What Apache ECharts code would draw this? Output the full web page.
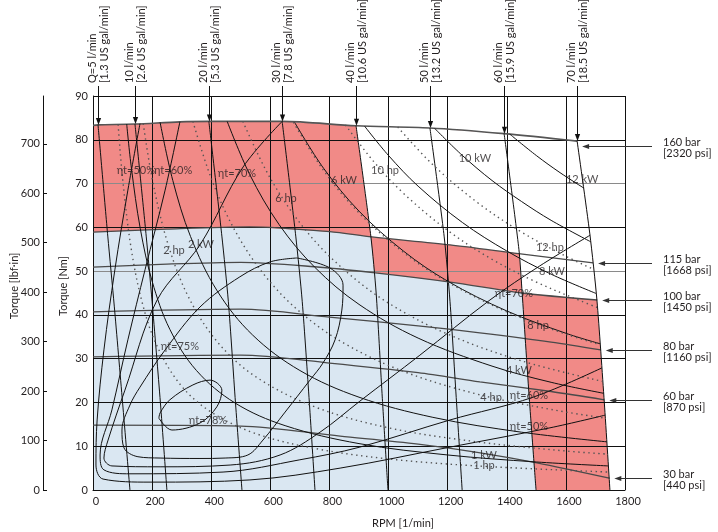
<!DOCTYPE html>
<html><head><meta charset="utf-8">
<script src="https://cdn.jsdelivr.net/npm/echarts@6/dist/echarts.min.js"></script>
<style>html,body{margin:0;padding:0;background:#fff}#c{width:718px;height:532px}</style>
</head><body><div id="c"></div>
<script>
// ---------- data (rpm, Nm) ----------
const xTicksMax = 1800, yNmMax = 90;
const lbfPerNm = 8.8507;
const lbfTicks = [0,100,200,300,400,500,600,700];

// 160 bar line = top boundary
const top160 = [[0,83.3],[17,83.4],[142,83.6],[294,84.1],[392,84.2],[640,84.2],[890,83.2],[1140,82.7],[1391,81.4],[1638,79.7]];
const p115 = [[0,58.9],[250,59.6],[530,60.1],[800,59.0],[944,57.8],[1208,56.0],[1440,54.0],[1692,51.9]];
const p100 = [[0,50.9],[250,51.6],[500,52.0],[750,51.0],[955,49.6],[1208,47.5],[1451,45.0],[1706,43.4]];
const p80  = [[0,40.7],[500,41.3],[800,39.5],[1100,37.5],[1309,35.9],[1550,33.8],[1718,32.0]];
const p60  = [[0,30.4],[500,30.8],[800,29.0],[1100,26.8],[1309,24.7],[1550,22.5],[1730,20.6]];
const p30  = [[0,14.8],[500,14.6],[836,12.3],[1100,10.5],[1300,8.6],[1502,6.2],[1747,2.7]];

// flow lines
const q5  = [[17,83.4],[50,58],[72,42],[100,20],[125,0]];
const q10 = [[142,83.6],[180,58],[200,43],[228,20],[250,0]];
const q20 = [[392,84.2],[436,58],[458,43],[482,20],[504,0]];
const q30 = [[640,84.2],[686,58],[708,43],[732,20],[751,0]];
const q40 = [[890,83.2],[940,58],[958,45],[978,22],[998,0]];
const q50 = [[1140,82.7],[1188,58],[1208,43],[1230,20],[1249,0]];
const q60 = [[1391,81.4],[1441,55],[1452,45],[1475,22],[1499,0]];
const q70 = [[1638,79.7],[1681,58.5],[1705,43.4],[1730,20],[1749,0]];

// power lines (kW solid, hp dotted)
const kw1  = [[114,83.6],[130,73.5],[160,59.7],[200,47.7],[260,36.7],[350,27.3],[480,19.9],[650,14.7],[900,10.6],[1200,8.0],[1500,6.4],[1743,5.5]];
const kw2  = [[227,84.0],[270,70.7],[330,57.9],[420,45.5],[540,35.4],[700,27.3],[900,21.2],[1150,16.6],[1450,13.2],[1739,11.0]];
const kw4  = [[454,84.2],[530,72.1],[630,60.6],[750,50.9],[900,42.4],[1100,34.7],[1350,28.3],[1550,24.6],[1727,22.1]];
const kw6  = [[682,84.0],[780,73.5],[900,63.7],[1050,54.6],[1200,47.7],[1400,40.9],[1600,35.8],[1716,33.4]];
const kw8  = [[919,83.1],[1000,76.4],[1100,69.4],[1250,61.1],[1400,54.6],[1550,49.3],[1702,44.9]];
const kw10 = [[1156,82.6],[1250,76.4],[1350,70.7],[1450,65.9],[1550,61.6],[1684,56.7]];
const kw12 = [[1410,81.3],[1500,76.4],[1580,72.5],[1660,69.0]];
const hp1  = [[85,83.5],[100,71.2],[130,54.8],[170,41.9],[220,32.4],[300,23.7],[400,17.8],[550,12.9],[750,9.5],[1000,7.1],[1300,5.5],[1745,4.1]];
const hp2  = [[170,83.7],[200,71.2],[250,57.0],[320,44.5],[420,33.9],[550,25.9],[750,19.0],[1000,14.2],[1300,11.0],[1600,8.9],[1741,8.2]];
const hp4  = [[338,84.2],[400,71.2],[480,59.3],[580,49.1],[700,40.7],[850,33.5],[1050,27.1],[1300,21.9],[1550,18.4],[1733,16.4]];
const hp6  = [[507,84.2],[600,71.2],[720,59.3],[850,50.3],[1000,42.7],[1200,35.6],[1450,29.5],[1724,24.8]];
const hp8  = [[678,84.0],[780,73.0],[900,63.3],[1050,54.3],[1200,47.5],[1400,40.7],[1600,35.6],[1716,33.2]];
const hp10 = [[854,83.4],[950,75.0],[1050,67.8],[1200,59.3],[1350,52.7],[1500,47.5],[1650,43.2],[1706,41.7]];
const hp12 = [[1031,82.9],[1150,74.3],[1300,65.7],[1450,58.9],[1600,53.4],[1694,50.4]];

// efficiency contours
const eff50 = [[159,83.7],[118,68.5],[74,50.3],[37,32.0],[14,16.0],[10,5.7],[34,2.5],[193,1.8],[531,2.3],[836,5.0],[1208,9.8],[1546,14.2],[1733,17.1]];
const eff60 = [[294,84.1],[244,68.5],[176,50.3],[118,34.3],[64,18.3],[24,8.0],[37,4.6],[125,3.7],[440,4.1],[700,6.9],[903,9.8],[1208,16.0],[1489,21.2],[1722,27.9]];
const eff70 = [[640,84.2],[508,73.8],[362,56.0],[217,43.4],[108,22.8],[51,11.4],[37,7.3],[64,5.5],[227,5.3],[464,5.7],[633,8.0],[768,13.2],[903,20.3],[1106,30.8],[1343,43.4],[1512,51.2],[1682,58.2]];
const eff75 = [[690,53.0],[802,50.7],[846,46.8],[842,41.1],[819,34.3],[778,29.0],[734,25.1],[650,17.8],[575,11.4],[524,8.0],[447,7.3],[362,7.2],[227,7.3],[152,7.6],[105,9.6],[98,13.7],[125,19.4],[159,23.5],[244,32.0],[362,41.8],[497,48.7],[599,52.1],[690,53.0]];
const eff78 = [[223,16.4],[267,13.7],[362,15.3],[419,19.0],[436,22.8],[396,25.1],[338,24.0],[260,20.6],[227,17.6],[223,16.4]];

// in-plot labels
const labelText = ["ηt=50%","ηt=60%","ηt=70%","2 hp","2 kW","6 hp","6 kW","10 hp","10 kW","12 kW","12 hp","8 kW","ηt=70%","8 hp","4 kW","4 hp","ηt=60%","ηt=50%","1 kW","1 hp","ηt=75%","ηt=78%"];
const labelRpm  = [145,271,487,274,365,653,849,988,1292,1655,1546,1553,1424,1506,1441,1347,1475,1475,1323,1323,294,389];
const labelNm   = [73.1,73.1,72.4,54.8,56.2,66.5,70.6,73.1,75.8,71.0,55.5,50.0,44.8,37.7,27.2,21.2,21.5,14.6,7.8,5.5,32.7,16.0];

// outside annotations
const flowLpm = ["Q=5 l/min","10 l/min","20 l/min","30 l/min","40 l/min","50 l/min","60 l/min","70 l/min"];
const flowGal = ["[1.3 US gal/min]","[2.6 US gal/min]","[5.3 US gal/min]","[7.8 US gal/min]","[10.6 US gal/min]","[13.2 US gal/min]","[15.9 US gal/min]","[18.5 US gal/min]"];
const pressBar = ["160 bar","115 bar","100 bar","80 bar","60 bar","30 bar"];
const pressPsi = ["[2320 psi]","[1668 psi]","[1450 psi]","[1160 psi]","[870 psi]","[440 psi]"];

// ---------- geometry helpers ----------
const flowLines = [q5,q10,q20,q30,q40,q50,q60,q70];
const pressLines = [top160,p115,p100,p80,p60,p30];
function segInt(a,b,c,d){
  const r=[b[0]-a[0],b[1]-a[1]], s=[d[0]-c[0],d[1]-c[1]];
  const den=r[0]*s[1]-r[1]*s[0]; if(Math.abs(den)<1e-12) return null;
  const t=((c[0]-a[0])*s[1]-(c[1]-a[1])*s[0])/den;
  const u=((c[0]-a[0])*r[1]-(c[1]-a[1])*r[0])/den;
  const e=1e-6;
  if(t<-e||t>1+e||u<-e||u>1+e) return null;
  return {t:t,u:u};
}
function findCross(A,B){
  for(let i=0;i<A.length-1;i++) for(let j=0;j<B.length-1;j++){
    const r=segInt(A[i],A[i+1],B[j],B[j+1]); if(r) return {a:i+r.t,b:j+r.u};
  }
  return null;
}
function ptAt(A,s){const i=Math.max(0,Math.min(Math.floor(s),A.length-2));const t=s-i;
  return [A[i][0]+(A[i+1][0]-A[i][0])*t, A[i][1]+(A[i+1][1]-A[i][1])*t];}
function slice(A,s0,s1){
  const out=[ptAt(A,s0)];
  if(s1>s0){for(let k=Math.floor(s0)+1;k<s1;k++) out.push(A[k]);}
  else {for(let k=Math.ceil(s0)-1;k>s1;k--) out.push(A[k]);}
  out.push(ptAt(A,s1)); return out;
}
const c70_100=findCross(q70,p100), c60_100=findCross(q60,p100), c60_115=findCross(q60,p115),
      c40_115=findCross(q40,p115), c40_100=findCross(q40,p100);
const iTop40 = top160.findIndex(p=>p[0]===q40[0][0]);
const envelope = [[0,0]].concat(top160, q70.slice(1));
const whiteReg = [].concat(
  slice(top160,iTop40,top160.length-1),
  slice(q70,0,c70_100.a),
  slice(p100,c70_100.b,c60_100.b),
  slice(q60,c60_100.a,c60_115.a),
  slice(p115,c60_115.b,c40_115.b),
  slice(q40,c40_115.a,0));
const blueReg = [[0,0]].concat(
  slice(p115,0,c40_115.b),
  slice(q40,c40_115.a,c40_100.a),
  slice(p100,c40_100.b,c60_100.b),
  slice(q60,c60_100.a,q60.length-1));

// ---------- chart ----------
const RED='#f18a87', BLUE='#dae7f2', INK='#231f20';
const FONT='Lato';
function poly(pts,color){
  return {type:'custom',coordinateSystem:'cartesian2d',xAxisIndex:0,yAxisIndex:0,z:1,silent:true,animation:false,
    data:[[0,0]],
    renderItem:function(params,api){return {type:'polygon',shape:{points:pts.map(p=>api.coord(p))},style:{fill:color,stroke:null}};}};
}
function line(d,color,w,type,smooth){
  return {type:'line',data:d,showSymbol:false,symbol:'none',silent:true,animation:false,z:10,
    smooth:smooth,lineStyle:{color:color,width:w,type:type||'solid'}};
}
const series=[poly(envelope,RED),poly(whiteReg,'#ffffff'),poly(blueReg,BLUE)];
[top160].forEach(d=>series.push(line(d,'#555',1.6,'solid',0.3)));
[p115,p100,p80,p60,p30].forEach(d=>series.push(line(d,'#4a4a4a',1.3,'solid',0.3)));
flowLines.forEach(d=>series.push(line(d,'#111',1,'solid',0.25)));
[kw1,kw2,kw4,kw6,kw8,kw10,kw12].forEach(d=>series.push(line(d,'#111',1,'solid',0.35)));
[hp1,hp2,hp4,hp6,hp8,hp10,hp12].forEach(d=>series.push(line(d,'#555',1.4,[1.4,3.6],0.35)));
[eff50,eff60,eff70,eff75,eff78].forEach(d=>series.push(line(d,'#111',1,'solid',0.35)));
series.push({type:'scatter',silent:true,animation:false,z:20,symbolSize:1,itemStyle:{color:'rgba(0,0,0,0)'},
  data:labelText.map((t,i)=>({name:t,value:[labelRpm[i],labelNm[i]]})),
  label:{show:true,position:'inside',formatter:'{b}',color:INK,fontFamily:FONT,fontSize:11}});

const chart=echarts.init(document.getElementById('c'));
const yGridColors=['#111','#111','#111','#111','#111','#8a8a8a','#111','#8a8a8a','#111','#111'];
chart.setOption({
  animation:false,
  grid:{left:93,top:96,width:532,height:394,containLabel:false},
  xAxis:{type:'value',min:0,max:xTicksMax,interval:200,z:5,
    axisLine:{show:true,onZero:false,lineStyle:{color:'#111',width:1}},
    axisTick:{show:false},
    axisLabel:{color:INK,fontFamily:FONT,fontSize:11,margin:6,padding:[0,0,0,6],formatter:v=>String(v)},
    splitLine:{show:true,lineStyle:{color:'#111',width:1}}},
  yAxis:[
    {type:'value',min:0,max:yNmMax,interval:10,position:'left',z:5,
     axisLine:{show:true,onZero:false,lineStyle:{color:'#111',width:1}},
     axisTick:{show:false},
     axisLabel:{color:INK,fontFamily:FONT,fontSize:11,margin:5,formatter:v=>String(v)},
     splitLine:{show:true,lineStyle:{color:yGridColors,width:1.2}}},
    {type:'value',min:0,max:yNmMax*lbfPerNm,position:'left',offset:50,z:5,
     axisLine:{show:true,onZero:false,lineStyle:{color:'#111',width:1}},
     axisTick:{show:true,inside:true,length:4,customValues:lbfTicks,lineStyle:{color:'#111'}},
     axisLabel:{color:INK,fontFamily:FONT,fontSize:11,margin:3,customValues:lbfTicks,formatter:v=>String(v)},
     splitLine:{show:false}}
  ],
  series:series
});

// ---------- annotations outside the plot ----------
const P=p=>chart.convertToPixel({xAxisIndex:0,yAxisIndex:0},p);
const g=[];
function txt(x,y,s,opt){return Object.assign({type:'text',x:x,y:y,z:100,silent:true,
  style:{text:s,font:'11px '+FONT,fill:INK,align:'left',verticalAlign:'middle',textAlign:'left',textVerticalAlign:'middle',lineHeight:12}},opt||{});}
flowLines.forEach((q,k)=>{
  const c=P(q[0]); const x=Math.round(c[0])+0.5, y=c[1];
  g.push({type:'line',z:100,silent:true,shape:{x1:x,y1:86,x2:x,y2:y-6},style:{stroke:'#111',lineWidth:1}});
  g.push({type:'polygon',z:100,silent:true,shape:{points:[[x,y],[x-2.6,y-7],[x+2.6,y-7]]},style:{fill:'#111'}});
  g.push(txt(x,83,flowLpm[k]+'\n'+flowGal[k],{rotation:Math.PI/2}));
});
const pressDy=[5,0,0,0,0,0];
pressLines.forEach((L,k)=>{
  const e=P(L[L.length-1]); const tx=e[0]+5, ty=Math.round(e[1]+pressDy[k])+0.5;
  g.push({type:'line',z:100,silent:true,shape:{x1:652,y1:ty,x2:tx+6,y2:ty},style:{stroke:'#333',lineWidth:1}});
  g.push({type:'polygon',z:100,silent:true,shape:{points:[[tx,ty],[tx+7,ty-2.6],[tx+7,ty+2.6]]},style:{fill:'#333'}});
  g.push(txt(663,ty-4,pressBar[k]));
  g.push(txt(663,ty+7,pressPsi[k]));
});
g.push(txt(63,286,'Torque [Nm]',{rotation:Math.PI/2,style:{text:'Torque [Nm]',font:'11px '+FONT,fill:INK,align:'center',verticalAlign:'middle',textAlign:'center',textVerticalAlign:'middle'}}));
g.push(txt(14,286,'Torque [lbf·in]',{rotation:Math.PI/2,style:{text:'Torque [lbf·in]',font:'11px '+FONT,fill:INK,align:'center',verticalAlign:'middle',textAlign:'center',textVerticalAlign:'middle'}}));
g.push(txt(403,523,'RPM [1/min]',{style:{text:'RPM [1/min]',font:'11px '+FONT,fill:INK,align:'center',verticalAlign:'middle',textAlign:'center',textVerticalAlign:'middle'}}));
chart.setOption({graphic:{elements:g}});
</script></body></html>
